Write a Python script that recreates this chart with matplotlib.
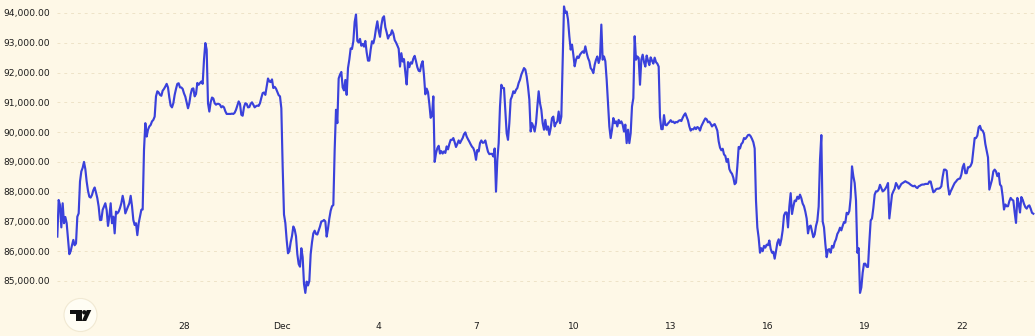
import matplotlib
matplotlib.use("Agg")
import matplotlib.pyplot as plt
from matplotlib.patches import Circle, Polygon, Rectangle
import numpy as np
import pandas as pd

# ---------------- data (BTC price, roughly hourly samples) ----------------
series_start = "2025-11-24 01:48"
series_end = "2025-12-24 04:46"

prices_nov24_nov30 = [
    86490, 87720, 87550, 86800, 87610, 86940, 87150, 86940, 86400, 85900,
    86000, 86200, 86380, 86200, 86260, 87160, 87270, 88340, 88680, 88800,
    89000, 88760, 88340, 88030, 87830, 87800, 87890, 88050, 88140, 87970,
    87780, 87500, 87050, 87050, 87390, 87500, 87610, 87380, 86850, 87160,
    87610, 86940, 87160, 86600, 87330, 87270, 87330, 87450, 87610, 87860,
    87640, 87270, 87390, 87500, 87610, 87860, 87520, 87050, 86880, 86940,
    86540, 86940, 87160, 87390, 87400, 89400, 90300, 89850, 90080, 90190,
    90240, 90360, 90410, 90520, 91200, 91370, 91330, 91250, 91220, 91390,
    91450, 91530, 91620, 91500, 91160, 90890, 90830, 90970, 91250, 91450,
    91620, 91640, 91500, 91500, 91450, 91300, 91190, 91000, 90800, 90970,
    91270, 91450, 91470, 91200, 91280, 91650, 91590, 91650, 91700, 91620,
    92430, 92990, 92770, 90970, 90690, 91000, 91160, 91130, 90970, 90920,
    90950, 90950, 90920, 90830, 90870, 90830, 90700, 90610, 90610, 90610,
    90610, 90620, 90610, 90650, 90750, 90890, 91030, 90950, 90580, 90550,
    90840, 90970, 90950, 90830, 90840,
]

prices_nov30_dec06 = [
    90950, 91000, 90920, 90830, 90870, 90890, 90880, 90970, 91150, 91310,
    91330, 91250, 91530, 91800, 91700, 91680, 91770, 91480, 91520, 91460,
    91350, 91240, 91200, 90800, 88840, 87230, 86950, 86380, 85930, 86000,
    86300, 86510, 86830, 86730, 86500, 85900, 85570, 85480, 86100, 85800,
    84900, 84600, 84980, 84850, 85000, 85900, 86300, 86600, 86690, 86580,
    86560, 86700, 86830, 87000, 87010, 87050, 87000, 86490, 86760, 87100,
    87360, 87510, 87550, 89400, 90750, 90300, 91800, 91930, 92020, 91500,
    91400, 91750, 91250, 92150, 92440, 92810, 92790, 93050, 93700, 93950,
    93060, 93010, 93130, 92900, 92960, 92870, 93060, 92680, 92400, 92400,
    92770, 93050, 92980, 93170, 93480, 93720, 93400, 93200, 93580, 93830,
    93890, 93520, 93350, 93140, 93250, 93270, 93420, 93310, 93090, 93010,
    92910, 92800, 92200, 92650, 92370, 92450, 92000, 91600, 92350, 92180,
    92340, 92300, 92470, 92560, 92380, 92180, 92060, 92040, 92270, 92380,
    91900, 91270, 91460, 91340, 90950, 90480, 90550, 91200, 89000, 89290,
    89460, 89540, 89280, 89360, 89280, 89350,
]

prices_dec06_dec12 = [
    89300, 89520, 89420, 89600, 89740, 89740, 89800, 89660, 89500, 89600,
    89720, 89630, 89720, 89800, 89930, 89990, 89850, 89760, 89680, 89590,
    89510, 89460, 89330, 89070, 89400, 89350, 89630, 89720, 89640, 89650,
    89720, 89520, 89340, 89260, 89270, 89270, 89180, 89450, 88000, 89070,
    89630, 90860, 91590, 91480, 91480, 90750, 89960, 89740, 90300, 91090,
    91200, 91370, 91310, 91420, 91480, 91650, 91760, 91930, 92040, 92150,
    92100, 91870, 91530, 91090, 90020, 90300, 90190, 90020, 90300, 90860,
    91370, 90970, 90750, 90300, 90080, 90410, 90080, 90190, 89910, 90130,
    90470, 90520, 90190, 90300, 90360, 90690, 90300, 90520, 92400, 94220,
    94000, 94050, 93780, 93220, 92770, 92940, 92600, 92210, 92430, 92540,
    92490, 92600, 92660, 92710, 92660, 92880, 92660, 92490, 92380, 92150,
    92090, 91980, 92260, 92430, 92540, 92320, 92490, 93610, 92430, 92540,
    92380, 91760, 90970, 90190, 89800, 90080, 90470, 90300, 90360, 90190,
    90410, 90300, 90360, 90250, 90020, 90250, 89630, 90080, 89630, 89960,
    90860, 91140, 93220, 92430, 92540, 92490,
]

prices_dec12_dec18 = [
    91590, 92430, 92600, 92350, 92200, 92570, 92400, 92250, 92510, 92400,
    92300, 92500, 92350, 92300, 92200, 90500, 90100, 90100, 90570, 90240,
    90230, 90290, 90340, 90400, 90340, 90350, 90300, 90340, 90330, 90380,
    90400, 90370, 90480, 90570, 90630, 90510, 90390, 90190, 90050, 90100,
    90090, 90160, 90100, 90170, 90140, 90050, 90200, 90290, 90380, 90460,
    90430, 90330, 90350, 90280, 90190, 90240, 90270, 90170, 90050, 89690,
    89480, 89390, 89440, 89250, 89200, 89000, 89100, 88760, 88660, 88600,
    88470, 88250, 88300, 88850, 89500, 89450, 89600, 89650, 89800, 89770,
    89830, 89900, 89910, 89860, 89770, 89660, 89450, 87700, 86800, 86450,
    85950, 86100, 86000, 86180, 86120, 86220, 86200, 86360, 86080, 85950,
    85980, 85750, 86000, 86280, 86400, 86200, 86400, 86700, 87200, 87300,
    87300, 86800, 87500, 87950, 87250, 87500, 87700, 87680, 87830, 87760,
    87900, 87780, 87600, 87510, 87330, 87100, 86600, 86830, 86860, 86660,
    86470, 86560, 86850, 87020, 87500, 89070, 89900, 87000, 86800, 86250,
    85800, 86050, 86070, 85950, 86180, 86120,
]

prices_dec18_dec24 = [
    86300, 86400, 86580, 86660, 86790, 86700, 86850, 86980, 86960, 87290,
    87240, 87350, 87800, 88850, 88520, 88290, 87700, 85950, 86100, 84600,
    84780, 85280, 85580, 85580, 85480, 85470, 86300, 87030, 87100, 87450,
    87900, 88010, 88010, 88070, 88230, 88120, 88010, 88040, 88100, 88180,
    88290, 87100, 87500, 87900, 88010, 88100, 88290, 88210, 88100, 88180,
    88260, 88290, 88320, 88350, 88320, 88300, 88270, 88230, 88200, 88180,
    88200, 88150, 88120, 88180, 88200, 88230, 88240, 88240, 88260, 88260,
    88260, 88340, 88340, 88150, 87980, 88010, 88080, 88100, 88100, 88120,
    88180, 88500, 88740, 88740, 88700, 88180, 87900, 88010, 88100, 88200,
    88290, 88340, 88400, 88430, 88440, 88570, 88820, 88930, 88620, 88620,
    88820, 88820, 88870, 88980, 89400, 89800, 89800, 89880, 90160, 90210,
    90070, 90050, 89940, 89600, 89380, 89150, 88070, 88240, 88400, 88680,
    88740, 88680, 88520, 88620, 88240, 88180, 87840, 87400, 87570, 87510,
    87510, 87680, 87790, 87730, 87700, 87300, 86950, 87790, 87600, 87300,
    87820, 87730, 87590, 87480, 87430, 87510, 87540, 87430, 87290, 87260,
]

tick_dates = ["2025-11-28", "2025-12-01", "2025-12-04", "2025-12-07", "2025-12-10",
              "2025-12-13", "2025-12-16", "2025-12-19", "2025-12-22"]
tick_labels = ["28", "Dec", "4", "7", "10", "13", "16", "19", "22"]
y_ticks = [85000, 86000, 87000, 88000, 89000, 90000, 91000, 92000, 93000, 94000]

# ---------------- build ----------------
prices = np.concatenate([prices_nov24_nov30, prices_nov30_dec06, prices_dec06_dec12,
                         prices_dec12_dec18, prices_dec18_dec24]).astype(float)
times = pd.date_range(series_start, series_end, periods=len(prices))

BG = "#fef8e7"
LINE = "#3a41db"
TXT = "#1c1c1c"

W, H = 1035, 336
fig = plt.figure(figsize=(W / 100, H / 100), dpi=100, facecolor=BG)
ax = fig.add_axes([57 / W, (H - 308) / H, (W - 57) / W, 308 / H])
ax.set_facecolor(BG)

ax.plot(times, prices, color=LINE, lw=1.55, solid_joinstyle="round", zorder=3)

ax.set_ylim(84093, 94436)
x0 = pd.Timestamp("2025-11-28") - pd.Timedelta(days=(184.5 - 57) / 32.4)
x1 = pd.Timestamp("2025-11-28") + pd.Timedelta(days=(1035 - 184.5) / 32.4)
ax.set_xlim(x0, x1)

ax.set_yticks(y_ticks)
ax.set_yticklabels([f"{v:,.2f}" for v in y_ticks])
ax.set_xticks(pd.to_datetime(tick_dates))
ax.set_xticklabels(tick_labels)
ax.tick_params(axis="both", length=0, colors=TXT, labelsize=6.6)
ax.tick_params(axis="y", pad=5)
ax.tick_params(axis="x", pad=9.8)
for s in ax.spines.values():
    s.set_visible(False)
ax.grid(axis="y", color="#eee3c8", lw=0.7, linestyle=(0, (3, 4)), zorder=0)
ax.grid(axis="x", visible=False)

# TradingView-style logo badge (decoration)
ov = fig.add_axes([0, 0, 1, 1], facecolor="none")
ov.set_xlim(0, W)
ov.set_ylim(H, 0)
ov.axis("off")
ov.add_patch(Circle((80.5, 315), 16.5, facecolor="#fffdf4", edgecolor="#f1e9d3", lw=0.8))
ov.add_patch(Rectangle((70, 310), 11.7, 4.4, facecolor="#111111", lw=0))
ov.add_patch(Rectangle((76.2, 310), 5.5, 11, facecolor="#111111", lw=0))
ov.add_patch(Circle((84.3, 312.3), 2.2, facecolor="#111111", lw=0))
ov.add_patch(Polygon([(86.8, 310), (91.3, 310), (86.2, 321), (81.8, 321)],
                     closed=True, facecolor="#111111", lw=0))

fig.savefig("out.png", dpi=100, facecolor=BG)
